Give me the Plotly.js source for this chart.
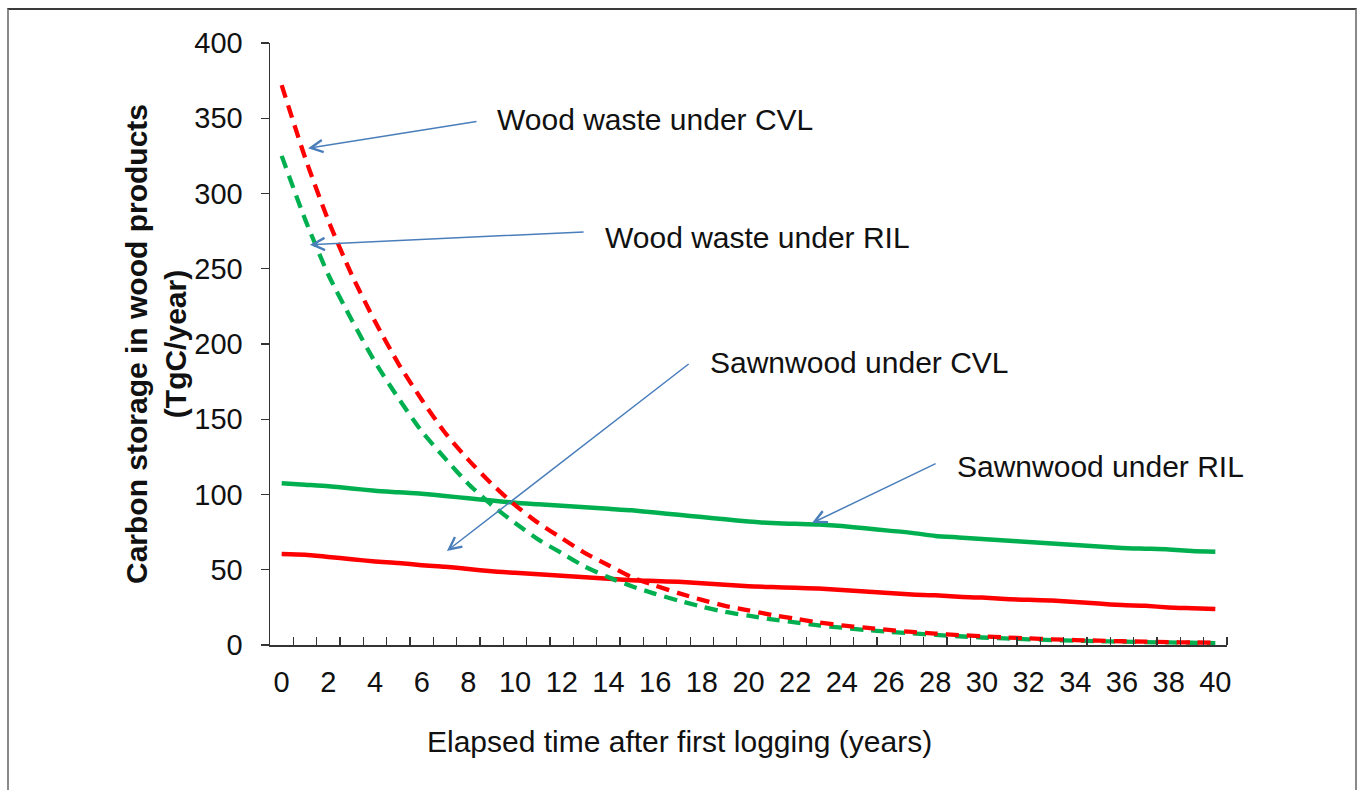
<!DOCTYPE html>
<html>
<head>
<meta charset="utf-8">
<script src="https://cdn.plot.ly/plotly-3.0.1.min.js"></script>
<style>
  html, body { margin: 0; padding: 0; background: #fff; }
  #wrap { position: relative; width: 1357px; height: 790px; overflow: hidden; }
  #frame { position: absolute; left: 7px; top: 8px; width: 1346px; height: 800px;
           border-top: 2px solid #3a3a3a; border-left: 2px solid #8a8a8a; border-right: 2px solid #8a8a8a; pointer-events: none; }
  #chart { position: absolute; left: 0; top: 0; width: 1357px; height: 790px; }
</style>
</head>
<body>
<div id="wrap">
  <div id="chart"></div>
  <div id="frame"></div>
</div>
<script>
// Elapsed time after first logging (years)
const years = [0,1,2,3,4,5,6,7,8,9,10,11,12,13,14,15,16,17,18,19,20,21,22,23,24,25,26,27,28,29,30,31,32,33,34,35,36,37,38,39,40];

// Carbon storage in wood products (TgC/year)
const woodWasteCVL = [372,324,282,246,215,187,163,141,123,107,93,81,71,61,53,45,39.5,34.5,30,26,23,20,17.5,15,13,11.5,10,8.7,7.6,6.6,5.8,5.0,4.4,3.8,3.3,2.9,2.5,2.2,1.9,1.7,1.5];
const woodWasteRIL = [325,283,246,216,188,164,142,124,107,93,81,70,61,52,45,39,34,29.5,25.5,22,19.5,17,15,13,11.5,10,8.8,7.7,6.7,5.8,5.0,4.4,3.8,3.3,2.9,2.5,2.2,1.9,1.7,1.5,1.3];
const sawnwoodRIL = [107.5,106.5,105.5,104,102.5,101.5,100.5,99,97.5,96,94.5,93.5,92.5,91.5,90.5,89.5,88,86.5,85,83.5,82,81,80.5,80,79,77.5,76,74.5,72.5,71.5,70.5,69.5,68.5,67.5,66.5,65.5,64.5,64,63.5,62.5,62];
const sawnwoodCVL = [60.5,60,58.5,57,55.5,54.5,53,52,50.5,49,48,47,46,45,44,43,42.5,42,41,40,39,38.5,38,37.5,36.5,35.5,34.5,33.5,33,32,31.5,30.5,30,29.5,28.5,27.5,26.5,26,25,24.5,24];

const xTickVals = [0,2,4,6,8,10,12,14,16,18,20,22,24,26,28,30,32,34,36,38,40];
const xTickText = ['0','2','4','6','8','10','12','14','16','18','20','22','24','26','28','30','32','34','36','38','40'];
const yTickVals = [0,50,100,150,200,250,300,350,400];

const labels = ['Wood waste under CVL','Wood waste under RIL','Sawnwood under CVL','Sawnwood under RIL'];

const RED = '#ff0000', GREEN = '#00b050', ARROW = '#4a7ebb';
const FONT = 'Liberation Sans, Arial, Helvetica, sans-serif';

const traces = [
  {x: years, y: sawnwoodRIL, name: labels[3], mode: 'lines', line: {color: GREEN, width: 4.5, shape: 'spline', smoothing: 0.6}},
  {x: years, y: sawnwoodCVL, name: labels[2], mode: 'lines', line: {color: RED, width: 4.5, shape: 'spline', smoothing: 0.6}},
  {x: years, y: woodWasteRIL, name: labels[1], mode: 'lines', line: {color: GREEN, width: 4.3, dash: '13px,8px', shape: 'spline', smoothing: 0.6}},
  {x: years, y: woodWasteCVL, name: labels[0], mode: 'lines', line: {color: RED, width: 4.3, dash: '13px,8px', shape: 'spline', smoothing: 0.6}}
];

// minor tick marks at category boundaries
const boundaries = years.map(v => v + 0.5);

function arrow(xTip, yTip, xTail, yTail) {
  return {x: xTip, y: yTip, ax: xTail, ay: yTail, xref: 'x', yref: 'y', axref: 'x', ayref: 'y',
          text: '', showarrow: true, arrowhead: 5, arrowsize: 1.6, arrowwidth: 1.5, arrowcolor: ARROW, standoff: 0, startstandoff: 0};
}
function label(txt, x, y) {
  return {x: x, y: y, xref: 'x', yref: 'y', text: txt, showarrow: false, xanchor: 'left', yanchor: 'middle',
          font: {family: FONT, size: 30, color: '#111'}};
}

const layout = {
  width: 1357, height: 790,
  margin: {l: 270, r: 130, t: 43, b: 145},
  paper_bgcolor: '#ffffff', plot_bgcolor: '#ffffff',
  showlegend: false,
  font: {family: FONT, color: '#111'},
  xaxis: {
    range: [-0.5, 40.5], tickmode: 'array', tickvals: xTickVals, ticktext: xTickText,
    ticks: '', showgrid: false, zeroline: false,
    showline: true, linecolor: '#333', linewidth: 1.5,
    tickfont: {family: FONT, size: 29, color: '#111'}, ticklabelstandoff: 11,
    minor: {tickmode: 'array', tickvals: boundaries, ticks: 'inside', ticklen: 8, tickwidth: 1.3, tickcolor: '#333', showgrid: false}
  },
  yaxis: {
    range: [0, 400], tickmode: 'array', tickvals: yTickVals,
    ticks: 'outside', ticklen: 8, tickwidth: 1.3, tickcolor: '#333',
    showgrid: false, zeroline: false, showline: true, linecolor: '#333', linewidth: 1.5,
    tickfont: {family: FONT, size: 29, color: '#111'}, ticklabelstandoff: 12,
    title: {text: '<b>Carbon storage in wood products<br>(TgC/year)</b>', font: {family: FONT, size: 30, color: '#111'}}
  },
  annotations: [
    arrow(1.13, 330, 8.41, 348),
    arrow(1.21, 266, 13.0, 274.5),
    arrow(7.08, 62.5, 17.5, 187.5),
    arrow(22.72, 81, 28.08, 121),
    label(labels[0], 9.14, 349),
    label(labels[1], 13.77, 270.5),
    label(labels[2], 18.26, 187.5),
    label(labels[3], 28.85, 118.5),
    {xref: 'paper', yref: 'paper', x: 0.4284, y: -0.161, xanchor: 'center', yanchor: 'middle', showarrow: false,
     text: 'Elapsed time after first logging (years)', font: {family: FONT, size: 30, color: '#111'}}
  ]
};

Plotly.newPlot('chart', traces, layout, {displayModeBar: false, staticPlot: true});
</script>
</body>
</html>
